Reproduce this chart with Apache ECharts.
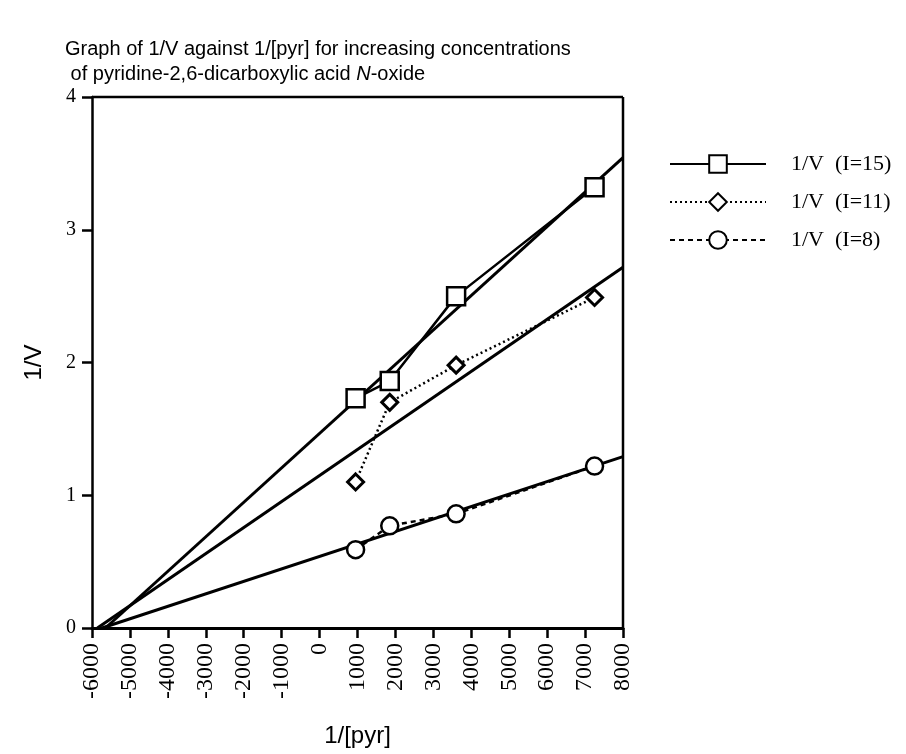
<!DOCTYPE html>
<html><head><meta charset="utf-8">
<script src="https://cdn.jsdelivr.net/npm/echarts@6/dist/echarts.min.js"></script>
<style>html,body{margin:0;padding:0;background:#fff}#c{width:906px;height:754px}</style>
</head><body><div id="c"></div>
<script>
const xInv = [950, 1850, 3600, 7250];
const yI15 = [1.73, 1.86, 2.50, 3.32];
const yI11 = [1.10, 1.70, 1.98, 2.49];
const yI8  = [0.59, 0.77, 0.86, 1.22];
const names = ['1/V  (I=15)', '1/V  (I=11)', '1/V  (I=8)'];
const xMin = -6000, xMax = 8000, xStep = 1000;
const yMin = 0, yMax = 4, yStep = 1;

function fit(xs, ys) {
  const n = xs.length;
  const mx = xs.reduce((a,b)=>a+b,0)/n, my = ys.reduce((a,b)=>a+b,0)/n;
  let sxx=0, sxy=0;
  for (let i=0;i<n;i++){ sxx+=(xs[i]-mx)**2; sxy+=(xs[i]-mx)*(ys[i]-my); }
  const m = sxy/sxx, b = my - m*mx;
  return [[-b/m, 0], [xMax, m*xMax + b]];
}
const pair = ys => xInv.map((x,i)=>[x, ys[i]]);
const serifF = '"Liberation Serif", "Times New Roman", serif';
const sansF = '"Liberation Sans", Arial, sans-serif';

const chart = echarts.init(document.getElementById('c'));
const fitStyle = {type:'line', showSymbol:false, symbol:'none', silent:true,
  lineStyle:{color:'#000', width:3}, z:1};
chart.setOption({
  animation:false,
  backgroundColor:'#fff',
  title:{
    text:'Graph of 1/V against 1/[pyr] for increasing concentrations\n of pyridine-2,6-dicarboxylic acid {i|N}-oxide',
    left:60, top:32,
    textStyle:{fontFamily:sansF, fontSize:20, fontWeight:'normal', color:'#000', lineHeight:25,
      rich:{i:{fontFamily:sansF, fontSize:20, fontStyle:'italic', color:'#000'}}}
  },
  legend:{
    orient:'vertical', left:664, top:148, itemWidth:96, itemHeight:22, itemGap:16,
    data:names, textStyle:{fontFamily:serifF, fontSize:22, color:'#000', padding:[0,0,0,20]},
    inactiveColor:'#000'
  },
  grid:{left:92, right:283, top:97, bottom:126},
  xAxis:{type:'value', min:xMin, max:xMax, interval:xStep,
    name:'1/[pyr]', nameLocation:'middle', nameGap:96,
    nameTextStyle:{fontFamily:sansF, fontSize:24, color:'#000'},
    axisLine:{onZero:false, lineStyle:{color:'#000', width:3}},
    axisTick:{length:10, lineStyle:{color:'#000', width:2.5}},
    axisLabel:{rotate:90, fontFamily:serifF, fontSize:24, color:'#000', margin:15,
      formatter: v => String(v)},
    splitLine:{show:false}},
  yAxis:{type:'value', min:yMin, max:yMax, interval:yStep,
    name:'1/V', nameLocation:'middle', nameGap:46, nameRotate:90,
    nameTextStyle:{fontFamily:sansF, fontSize:24, color:'#000'},
    axisLine:{onZero:false, lineStyle:{color:'#000', width:2.5}},
    axisTick:{length:10, lineStyle:{color:'#000', width:2.5}},
    axisLabel:{fontFamily:serifF, fontSize:20, color:'#000', margin:16,
      formatter: v => String(v)},
    splitLine:{show:false}},
  graphic:[
    {type:'line', shape:{x1:92,y1:97,x2:623,y2:97}, style:{stroke:'#000', lineWidth:2.5}},
    {type:'line', shape:{x1:623,y1:97,x2:623,y2:628}, style:{stroke:'#000', lineWidth:2.5}}
  ],
  series:[
    Object.assign({name:'fit15', data:fit(xInv,yI15)}, fitStyle),
    Object.assign({name:'fit11', data:fit(xInv,yI11)}, fitStyle),
    Object.assign({name:'fit8', data:fit(xInv,yI8)}, fitStyle),
    {name:names[0], type:'line', data:pair(yI15), symbol:'rect', symbolSize:18, z:3,
      lineStyle:{color:'#000', width:2.5, type:'solid'},
      itemStyle:{color:'#fff', borderColor:'#000', borderWidth:2.5}},
    {name:names[1], type:'line', data:pair(yI11), symbol:'diamond', symbolSize:16, z:3,
      lineStyle:{color:'#000', width:2.5, type:[2,3]},
      itemStyle:{color:'#fff', borderColor:'#000', borderWidth:3}},
    {name:names[2], type:'line', data:pair(yI8), symbol:'circle', symbolSize:17, z:3,
      lineStyle:{color:'#000', width:2.5, type:[5,4]},
      itemStyle:{color:'#fff', borderColor:'#000', borderWidth:2.5}}
  ]
});
</script></body></html>
